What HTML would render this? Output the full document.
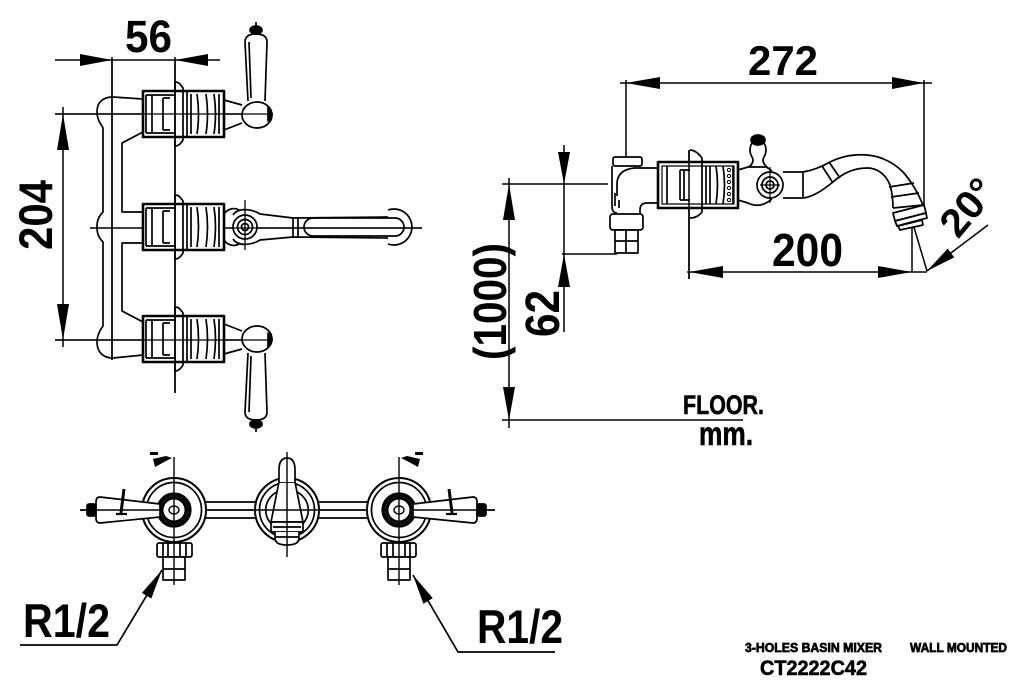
<!DOCTYPE html>
<html><head><meta charset="utf-8"><style>
html,body{margin:0;padding:0;background:#fff;}
svg{display:block;}
text{font-family:"Liberation Sans",sans-serif;font-weight:bold;fill:#000;}
</style></head><body>
<svg width="1016" height="685" viewBox="0 0 1016 685" xmlns="http://www.w3.org/2000/svg">
<rect width="1016" height="685" fill="#fff"/>

<!-- ================= LEFT DRAWING (front view) ================= -->
<g fill="none" stroke="#000" stroke-width="1.7" stroke-linejoin="round">
  <line x1="55" y1="60" x2="220" y2="60" stroke-width="1.5"/>
  <line x1="112" y1="57" x2="112" y2="360" stroke-width="1.5"/>
  <line x1="175" y1="57" x2="175" y2="393" stroke-width="1.5"/>
  <line x1="63" y1="107" x2="63" y2="347" stroke-width="1.5"/>
  <line x1="55" y1="114" x2="273" y2="114" stroke-width="1.5"/>
  <line x1="55" y1="340" x2="273" y2="340" stroke-width="1.5"/>
  <line x1="90" y1="228" x2="422" y2="228" stroke-width="1.5"/>

  <path d="M143,99 L113,97 C102,97 97,103 97,112 C97,120 101,124 103,128 L103,212 C99,216 97,220 97,227 C97,234 99,238 103,242 L103,326 C100,330 97,335 97,342 C97,352 103,358 113,358 L143,355"/>
  <path d="M143,132 L122,143 L122,212 L143,212"/>
  <path d="M143,243 L122,243 L122,311 L143,322"/>

  <g transform="translate(0,114)">
    <rect x="143" y="-23" width="81" height="46" stroke-width="2.6" fill="#fff"/>
    <path d="M146,-19 H176 M146,19 H176 M146,-19 V19 M152,-19 V19 M163,-16 V16 M163,-16 H170 M163,16 H170"/>
    <path d="M175,-32 C179,-32 181,-29 183,-26 V26 C181,29 179,32 175,32 Z"/>
    <path d="M187,-22 V22 M191,-20 V20"/>
    <path d="M197,-20 Q200,0 197,20 M206,-20 Q209,0 206,20 M214,-20 Q217,0 214,20 M219,-20 V20"/>
  </g>
  <g transform="translate(0,227)">
    <rect x="143" y="-23" width="81" height="46" stroke-width="2.6" fill="#fff"/>
    <path d="M146,-19 H176 M146,19 H176 M146,-19 V19 M152,-19 V19 M163,-16 V16 M163,-16 H170 M163,16 H170"/>
    <path d="M175,-32 C179,-32 181,-29 183,-26 V26 C181,29 179,32 175,32 Z"/>
    <path d="M187,-22 V22 M191,-20 V20"/>
    <path d="M197,-20 Q200,0 197,20 M206,-20 Q209,0 206,20 M214,-20 Q217,0 214,20 M219,-20 V20"/>
  </g>
  <g transform="translate(0,339)">
    <rect x="143" y="-23" width="81" height="46" stroke-width="2.6" fill="#fff"/>
    <path d="M146,-19 H176 M146,19 H176 M146,-19 V19 M152,-19 V19 M163,-16 V16 M163,-16 H170 M163,16 H170"/>
    <path d="M175,-32 C179,-32 181,-29 183,-26 V26 C181,29 179,32 175,32 Z"/>
    <path d="M187,-22 V22 M191,-20 V20"/>
    <path d="M197,-20 Q200,0 197,20 M206,-20 Q209,0 206,20 M214,-20 Q217,0 214,20 M219,-20 V20"/>
  </g>
  <line x1="112" y1="60" x2="112" y2="360" stroke-width="1.5"/>
  <line x1="175" y1="60" x2="175" y2="393" stroke-width="1.5"/>

  <g transform="translate(0,114)">
    <path d="M224,-14 L242,-9 M224,16 L242,9"/>
    <ellipse cx="257" cy="1" rx="15" ry="13" fill="#fff"/>
    <path d="M268,-7 A6,8 0 0 1 268,7 Z" fill="#000"/>
    <path d="M248,-13 L245,-72 Q245,-80 256,-80 Q267,-80 267,-72 L265,-13" fill="#fff"/>
    <path d="M251,-16 L249,-72"/>
    <ellipse cx="256" cy="-84" rx="6" ry="4" fill="#000"/>
    <line x1="256" y1="-92" x2="256" y2="-86"/>
  </g>
  <g transform="translate(0,340) scale(1,-1)">
    <path d="M224,-14 L242,-9 M224,16 L242,9"/>
    <ellipse cx="257" cy="1" rx="15" ry="13" fill="#fff"/>
    <path d="M268,-7 A6,8 0 0 1 268,7 Z" fill="#000"/>
    <path d="M248,-13 L245,-72 Q245,-80 256,-80 Q267,-80 267,-72 L265,-13" fill="#fff"/>
    <path d="M251,-16 L249,-72"/>
    <ellipse cx="256" cy="-84" rx="6" ry="4" fill="#000"/>
    <line x1="256" y1="-92" x2="256" y2="-86"/>
  </g>
  <line x1="55" y1="114" x2="273" y2="114" stroke-width="1.3"/>
  <line x1="55" y1="340" x2="273" y2="340" stroke-width="1.3"/>

  <g transform="translate(0,227)">
    <path d="M224,-13 C228,-19 236,-20 240,-16"/>
    <path d="M224,13 C228,19 236,20 240,16"/>
    <path d="M233,-12 C238,-20 252,-18 260,-13 L293,-9 L388,-10"/>
    <path d="M233,12 C238,20 252,18 260,13 L293,10 L388,11"/>
    <path d="M388,-17 A18,18 0 1 1 388,17"/>
    <path d="M313,-9 H395 A9,9 0 0 1 395,9 H313 A9,9 0 0 1 313,-9 Z"/>
    <path d="M293,-9 V10 M298,-9 V10"/>
    <circle cx="245" cy="0" r="12" fill="#fff"/>
    <circle cx="245" cy="0" r="7.5"/>
    <circle cx="245" cy="0" r="3.5"/>
    <line x1="245" y1="-27" x2="245" y2="23" stroke-width="1.3"/>
  </g>
  <line x1="230" y1="228" x2="422" y2="228" stroke-width="1.3"/>
</g>
<g fill="#000" stroke="none">
  <polygon points="112,60 80,54 80,66"/>
  <polygon points="175,60 208,54 208,66"/>
  <polygon points="63,114 57,150 69,150"/>
  <polygon points="63,340 57,304 69,304"/>
</g>

<!-- ================= RIGHT DRAWING (side view) ================= -->
<g fill="none" stroke="#000" stroke-width="1.7" stroke-linejoin="round">
  <line x1="620" y1="83" x2="932" y2="83" stroke-width="1.5"/>
  <line x1="626" y1="80" x2="626" y2="157" stroke-width="1.5"/>
  <line x1="924" y1="80" x2="924" y2="207" stroke-width="1.5"/>
  <line x1="687" y1="272" x2="927" y2="272" stroke-width="1.5"/>
  <line x1="689" y1="150" x2="689" y2="279" stroke-width="1.5"/>
  <line x1="912" y1="224" x2="912" y2="272" stroke-width="1.5"/>
  <line x1="913" y1="224" x2="927" y2="271" stroke-width="1.5"/>
  <line x1="927" y1="271" x2="988" y2="225" stroke-width="1.5"/>
  <line x1="564" y1="145" x2="564" y2="332" stroke-width="1.5"/>
  <line x1="502" y1="184" x2="608" y2="184" stroke-width="1.5"/>
  <line x1="562" y1="254" x2="617" y2="254" stroke-width="1.5"/>
  <line x1="509" y1="178" x2="509" y2="428" stroke-width="1.5"/>
  <line x1="502" y1="420" x2="743" y2="420" stroke-width="1.5"/>

  <rect x="613" y="157" width="29" height="9" rx="2" fill="#fff"/>
  <path d="M612,166 V206 Q612,213 617,213"/>
  <path d="M617,196 V184 Q617,170 634,168 H658"/>
  <path d="M658,203 H647 Q640,203 640,210 V214"/>
  <path d="M615,193 V206 M619,200 V208"/>
  <rect x="610" y="214" width="33" height="16" rx="3" fill="#fff"/>
  <rect x="615" y="230" width="23" height="23" fill="#fff"/>
  <path d="M626,230 V253 M615,241 H638"/>

  <rect x="658" y="162" width="80" height="46" stroke-width="2.6" fill="#fff"/>
  <rect x="662" y="166" width="72" height="38" stroke-width="1.2"/>
  <path d="M667,166 V204 M680,170 V200 M684,170 V200 M680,170 H690 M680,200 H690"/>
  <path d="M690,150 C695,150 699,154 702,158 V212 C699,216 695,218 690,218"/>
  <path d="M706,166 V204 M710,166 V204"/>
  <path d="M716,166 Q719,185 716,204 M723,166 Q726,185 723,204 M733,166 V204"/>
  <g stroke-width="1">
    <circle cx="729" cy="170" r="1.6"/><circle cx="729" cy="176" r="1.6"/><circle cx="729" cy="182" r="1.6"/>
    <circle cx="729" cy="188" r="1.6"/><circle cx="729" cy="194" r="1.6"/><circle cx="729" cy="200" r="1.6"/>
  </g>
  <line x1="689" y1="150" x2="689" y2="279" stroke-width="1.5"/>

  <path d="M738,170 L748,167 Q760,161 772,171"/>
  <path d="M738,200 L748,203 Q760,209 772,199"/>
  <path d="M752,143 Q748,150 752,157 Q755,162 749,167 H767 Q761,162 764,157 Q768,150 764,143" fill="#fff"/>
  <ellipse cx="758" cy="140" rx="7" ry="5" fill="#000"/>
  <circle cx="770" cy="185" r="13" fill="#fff"/>
  <circle cx="770" cy="185" r="8"/>
  <circle cx="770" cy="185" r="4"/>
  <path d="M770,167 V203 M760,185 H780" stroke-width="1.2"/>

  <path d="M783,172 H803 C815,170 823,166 830,162 C842,156 855,154 867,155 C880,156 893,162 903,172 C911,181 918,193 923,205"/>
  <path d="M783,198 H803 C813,197 823,190 833,182 C843,173 855,168 867,168 C878,168 886,175 890,185 C892,192 893,200 893,208"/>
  <path d="M803,172 V198"/>
  <path d="M822,166 L833,183 M829,162 L840,178"/>
  <path d="M889,187 L914,183 M891,197 L919,193"/>
  <path d="M893,208 L923,205"/>
  <path d="M893,213 L924,205 L926,213 L895,221 Z" fill="#fff"/>
  <path d="M895,221 L926,213 L927,218 L897,226 Z" fill="#fff"/>
  <path d="M898,226 L922,220 L923,225 L900,230 Z" fill="#fff"/>
</g>
<g fill="#000" stroke="none">
  <polygon points="626,83 660,77 660,89"/>
  <polygon points="924,83 892,77 892,89"/>
  <polygon points="689,272 723,266 723,278"/>
  <polygon points="912,272 878,266 878,278"/>
  <polygon points="927,271 954.3,257.4 947.7,248.6"/>
  <polygon points="564,184 558,152 570,152"/>
  <polygon points="564,254 558,287 570,287"/>
  <polygon points="509,184 503,220 515,220"/>
  <polygon points="509,420 503,387 515,387"/>
</g>

<!-- ================= BOTTOM DRAWING (plan view) ================= -->
<g fill="none" stroke="#000" stroke-width="1.7" stroke-linejoin="round">
  <line x1="80" y1="510" x2="495" y2="510" stroke-width="1.4"/>
  <path d="M206,502 H256 M206,518 H256 M318,502 H367 M318,518 H367"/>

  <g>
    <rect x="157" y="543" width="35" height="14" rx="2" fill="#fff"/>
    <path d="M163,543 V557 M168,543 V557 M180,543 V557 M186,543 V557"/>
    <rect x="163" y="557" width="22" height="23" fill="#fff"/>
    <path d="M163,569 H185"/>
    <circle cx="174" cy="510" r="32" stroke-width="2" fill="#fff"/>
    <circle cx="174" cy="510" r="27.5"/>
    <circle cx="174" cy="510" r="16" stroke-width="3.2"/>
    <circle cx="174" cy="510" r="12" stroke-width="3"/>
    <circle cx="174" cy="510" r="14" stroke-width="1"/>
    <ellipse cx="174" cy="510" rx="5" ry="4" stroke-width="1.4"/>
    <path d="M160,504 L100,497 Q96,497 96,502 L96,518 Q96,523 100,523 L160,517 Z" fill="#fff"/>
    <rect x="87" y="504" width="9" height="12" rx="2" fill="#000"/>
    <path d="M124,489 L121,513" stroke-width="3"/>
    <path d="M116,514 H127" stroke-width="2.2"/>
    <line x1="174" y1="457" x2="174" y2="585" stroke-width="1.4"/>
    <polygon points="153,459 166,456 172,458 166,461 155,467" fill="#000" stroke="none"/>
    <rect x="150" y="452" width="8" height="3" fill="#000" stroke="none"/>
  </g>
  <g transform="translate(573,0) scale(-1,1)">
    <rect x="157" y="543" width="35" height="14" rx="2" fill="#fff"/>
    <path d="M163,543 V557 M168,543 V557 M180,543 V557 M186,543 V557"/>
    <rect x="163" y="557" width="22" height="23" fill="#fff"/>
    <path d="M163,569 H185"/>
    <circle cx="174" cy="510" r="32" stroke-width="2" fill="#fff"/>
    <circle cx="174" cy="510" r="27.5"/>
    <circle cx="174" cy="510" r="16" stroke-width="3.2"/>
    <circle cx="174" cy="510" r="12" stroke-width="3"/>
    <circle cx="174" cy="510" r="14" stroke-width="1"/>
    <ellipse cx="174" cy="510" rx="5" ry="4" stroke-width="1.4"/>
    <path d="M160,504 L100,497 Q96,497 96,502 L96,518 Q96,523 100,523 L160,517 Z" fill="#fff"/>
    <rect x="87" y="504" width="9" height="12" rx="2" fill="#000"/>
    <path d="M124,489 L121,513" stroke-width="3"/>
    <path d="M116,514 H127" stroke-width="2.2"/>
    <line x1="174" y1="457" x2="174" y2="585" stroke-width="1.4"/>
    <polygon points="153,459 166,456 172,458 166,461 155,467" fill="#000" stroke="none"/>
    <rect x="150" y="452" width="8" height="3" fill="#000" stroke="none"/>
  </g>
  <line x1="80" y1="510" x2="160" y2="510" stroke-width="1.4"/>
  <line x1="413" y1="510" x2="495" y2="510" stroke-width="1.4"/>

  <circle cx="287" cy="510" r="32" stroke-width="2" fill="#fff"/>
  <circle cx="287" cy="510" r="27.5"/>
  <path d="M277,492 A20,20 0 0 0 277,528 M297,492 A20,20 0 0 1 297,528"/>
  <path d="M279,482 L271,522 H303 L295,482 Z" fill="#fff"/>
  <path d="M279,482 V470 Q279,458 287,458 Q295,458 295,470 V482" fill="#fff"/>
  <rect x="271" y="522" width="32" height="10" rx="2" fill="#fff"/>
  <path d="M275,532 V538 Q275,545 287,545 Q299,545 299,538 V532" fill="#fff"/>
  <path d="M276,537 H298 M273,527 H301"/>
  <line x1="287" y1="452" x2="287" y2="557" stroke-width="1.4"/>
  <line x1="206" y1="510" x2="368" y2="510" stroke-width="1.4"/>

  <path d="M162,570 L117,645 H20" stroke-width="1.7"/>
  <path d="M413,575 L458,652 H555" stroke-width="1.7"/>
</g>
<g fill="#000" stroke="none">
  <polygon points="162,570 151.3,598.5 141.9,592.9"/>
  <polygon points="413,575 432.8,598.1 423.4,603.7"/>
</g>

<!-- ================= TEXT ================= -->
<text x="125" y="52" font-size="45" textLength="47" lengthAdjust="spacingAndGlyphs">56</text>
<text transform="translate(52,250) rotate(-90)" font-size="47" textLength="70" lengthAdjust="spacingAndGlyphs">204</text>
<text x="748" y="75" font-size="42" textLength="70" lengthAdjust="spacingAndGlyphs">272</text>
<text x="772" y="266" font-size="46" textLength="71" lengthAdjust="spacingAndGlyphs">200</text>
<text transform="translate(506,360) rotate(-90)" font-size="46" textLength="117" lengthAdjust="spacingAndGlyphs">(1000)</text>
<text transform="translate(559,337) rotate(-90)" font-size="48" textLength="47" lengthAdjust="spacingAndGlyphs">62</text>
<text transform="translate(978,216) rotate(-50)" text-anchor="middle" font-size="40" textLength="62" lengthAdjust="spacingAndGlyphs">20°</text>
<text x="683" y="414" font-size="27" textLength="81" lengthAdjust="spacingAndGlyphs" stroke="#000" stroke-width="0.6">FLOOR.</text>
<text x="699" y="445" font-size="33" textLength="54" lengthAdjust="spacingAndGlyphs" stroke="#000" stroke-width="0.6">mm.</text>
<text x="23" y="637" font-size="47" textLength="87" lengthAdjust="spacingAndGlyphs">R1/2</text>
<text x="477" y="643" font-size="47" textLength="86" lengthAdjust="spacingAndGlyphs">R1/2</text>
<text x="745" y="652" font-size="12.5" textLength="137" lengthAdjust="spacingAndGlyphs" stroke="#000" stroke-width="0.7">3-HOLES BASIN MIXER</text>
<text x="910" y="652" font-size="12.5" textLength="97" lengthAdjust="spacingAndGlyphs" stroke="#000" stroke-width="0.7">WALL MOUNTED</text>
<text x="760" y="675" font-size="21" textLength="107" lengthAdjust="spacingAndGlyphs" stroke="#000" stroke-width="0.6">CT2222C42</text>
</svg>
</body></html>
